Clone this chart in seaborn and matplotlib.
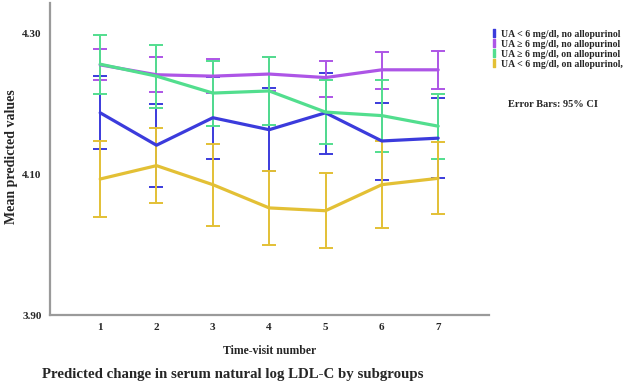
import matplotlib
matplotlib.use('Agg')
import matplotlib.pyplot as plt
import numpy as np
import pandas as pd
import seaborn as sns
from matplotlib.lines import Line2D

# Visits on the x axis
visits = [1, 2, 3, 4, 5, 6, 7]

# Subgroup names (legend order)
groups = ['UA < 6 mg/dl, no allopurinol',
          'UA \u2265 6 mg/dl, no allopurinol',
          'UA \u2265 6 mg/dl, on allopurinol',
          'UA < 6 mg/dl, on allopurinol,']

# Mean predicted ln LDL-C per visit
blue_mean = [4.187, 4.141, 4.180, 4.163, 4.187, 4.147, 4.151]
blue_lo = [4.135, 4.082, 4.122, 4.104, 4.129, 4.092, 4.095]
blue_hi = [4.239, 4.200, 4.238, 4.222, 4.244, 4.201, 4.208]

purple_mean = [4.255, 4.241, 4.239, 4.242, 4.237, 4.248, 4.248]
purple_lo = [4.233, 4.216, 4.215, 4.218, 4.210, 4.221, 4.221]
purple_hi = [4.278, 4.266, 4.263, 4.266, 4.261, 4.273, 4.274]

green_mean = [4.256, 4.239, 4.215, 4.218, 4.188, 4.183, 4.168]
green_lo = [4.214, 4.194, 4.168, 4.170, 4.143, 4.131, 4.121]
green_hi = [4.298, 4.283, 4.261, 4.266, 4.233, 4.234, 4.214]

yellow_mean = [4.093, 4.112, 4.085, 4.052, 4.048, 4.085, 4.094]
yellow_lo = [4.039, 4.059, 4.027, 4.000, 3.995, 4.023, 4.043]
yellow_hi = [4.147, 4.166, 4.143, 4.104, 4.102, 4.147, 4.145]

colors = ['#3b3bdc', '#ad55e6', '#52de8e', '#e3c035']

means = [blue_mean, purple_mean, green_mean, yellow_mean]
los = [blue_lo, purple_lo, green_lo, yellow_lo]
his = [blue_hi, purple_hi, green_hi, yellow_hi]

# long table for seaborn
rows = []
for g, m, lo, hi in zip(groups, means, los, his):
    for v, a, b, c in zip(visits, m, lo, hi):
        rows.append({'visit': v, 'group': g, 'mean': a, 'lo': b, 'hi': c})
df = pd.DataFrame(rows)

sns.set_theme(style='white')
plt.rcParams['font.family'] = ['Liberation Serif', 'DejaVu Serif']
plt.rcParams['font.weight'] = 'bold'

fig = plt.figure(figsize=(6.3, 3.83), dpi=100)
ax = fig.add_axes([0.0794, 0.1775, 0.6966, 0.815])

for g, c in zip(groups, colors):
    d = df[df.group == g]
    ax.errorbar(d.visit, d['mean'], yerr=[d['mean'] - d.lo, d.hi - d['mean']],
                fmt='none', ecolor=c, elinewidth=1.4, capsize=4.8, capthick=1.4)
sns.lineplot(data=df, x='visit', y='mean', hue='group', palette=colors,
             linewidth=2.3, legend=False, ax=ax, sort=False)

ax.set_xlim(0.11, 7.9)
ax.set_ylim(3.90, 4.343)
ax.set_xticks(visits)
ax.set_yticks([3.90, 4.10, 4.30])
ax.set_yticklabels(['3.90', '4.10', '4.30'])
ax.tick_params(length=0, labelsize=8, pad=6)
for lab in ax.get_xticklabels() + ax.get_yticklabels():
    lab.set_fontweight('bold')
sns.despine(ax=ax)
for s in ['left', 'bottom']:
    ax.spines[s].set_color('#9a9a9a')
    ax.spines[s].set_linewidth(1.6)

ax.set_xlabel('Time-visit number', fontsize=8.5, fontweight='bold', labelpad=9)
ax.set_ylabel('')
fig.text(0.019, 0.59, 'Mean predicted values', rotation=90, fontsize=10,
         fontweight='bold', ha='center', va='center')

handles = [Line2D([], [], ls='none', marker=r'$\mathbf{I}$', markersize=6, color=c)
           for c in colors]
fig.legend(handles, groups, loc='upper left', bbox_to_anchor=(0.772, 0.935),
           frameon=False, handlelength=0.6, handletextpad=0.4,
           labelspacing=0.1, borderpad=0, prop={'weight': 'bold', 'size': 7})
fig.text(0.806, 0.726, 'Error Bars: 95% CI', fontsize=7.5, fontweight='bold', va='center')

fig.text(0.066, 0.021, 'Predicted change in serum natural log LDL-C by subgroups',
         fontsize=10.7, fontweight='bold', va='center')

fig.savefig('out.png', dpi=100)
